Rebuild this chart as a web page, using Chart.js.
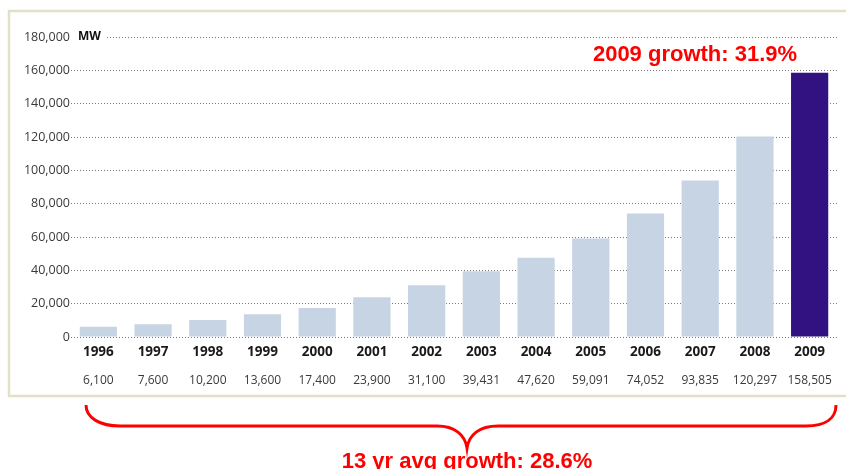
<!DOCTYPE html>
<html>
<head>
<meta charset="utf-8">
<script src="https://cdn.jsdelivr.net/npm/chart.js@4/dist/chart.umd.min.js"></script>
<style>
  html, body { margin: 0; padding: 0; background: #fff; }
  #wrap { width: 846px; height: 469px; }
</style>
</head>
<body>
<div id="wrap"><canvas id="myChart" width="846" height="469"></canvas></div>
<script>
// installed wind power capacity, MW
const years = ['1996', '1997', '1998', '1999', '2000', '2001', '2002', '2003', '2004', '2005', '2006', '2007', '2008', '2009'];
const capacity = [6100, 7600, 10200, 13600, 17400, 23900, 31100, 39431, 47620, 59091, 74052, 93835, 120297, 158505];
const yTicks = [0, 20000, 40000, 60000, 80000, 100000, 120000, 140000, 160000, 180000];
const lastYearNote = '2009 growth: 31.9%';
const avgNote = '13 yr avg growth: 28.6%';

const valueLabels = capacity.map(v => v.toLocaleString('en-US'));
const barColors = capacity.map((v, i) => i === capacity.length - 1 ? '#321281' : '#c6d4e3');

const frame = {
    id: 'frame',
    beforeDraw(chart) {
        const ctx = chart.ctx;
        ctx.save();
        ctx.fillStyle = '#fff';
        ctx.fillRect(0, 0, chart.width, chart.height);
        ctx.strokeStyle = '#e2e0c7';
        ctx.lineWidth = 2.5;
        ctx.strokeRect(9, 11, 850, 385);
        ctx.restore();
    },
    afterDraw(chart) {
        const ctx = chart.ctx;
        const area = chart.chartArea;
        const y = chart.scales.y;
        ctx.save();

        // unit label sits on the top grid line
        const topY = y.getPixelForValue(180000);
        ctx.fillStyle = '#fff';
        ctx.fillRect(area.left, topY - 7, 36, 14);
        ctx.fillStyle = '#111';
        ctx.font = 'bold 12px "Open Sans"';
        ctx.textBaseline = 'middle';
        ctx.fillText('MW', area.left + 7, topY);

        ctx.fillStyle = '#ff0000';
        ctx.font = 'bold 22px "Liberation Sans"';
        ctx.textAlign = 'center';
        ctx.textBaseline = 'alphabetic';
        ctx.fillText(lastYearNote, 695, 61);

        // brace under the whole range
        ctx.strokeStyle = '#ff0000';
        ctx.lineWidth = 3;
        ctx.beginPath();
        ctx.moveTo(86, 405);
        ctx.bezierCurveTo(86, 418, 100, 426, 120, 426);
        ctx.lineTo(437, 426);
        ctx.bezierCurveTo(455, 426, 465, 435, 467, 448);
        ctx.bezierCurveTo(469, 435, 479, 426, 498, 426);
        ctx.lineTo(806, 426);
        ctx.bezierCurveTo(826, 426, 836, 418, 836, 405);
        ctx.stroke();

        ctx.fillText(avgNote, 467, 468);
        ctx.restore();
    }
};

const ctx = document.getElementById('myChart').getContext('2d');
window.myChart = new Chart(ctx, {
    type: 'bar',
    data: {
        labels: years,
        datasets: [{
            label: 'MW',
            data: capacity,
            backgroundColor: barColors,
            borderWidth: 0,
            categoryPercentage: 1,
            barPercentage: 0.68
        }]
    },
    options: {
        responsive: false,
        animation: false,
        devicePixelRatio: 1,
        layout: {
            padding: { top: 37, right: 9, bottom: 76, left: 0 }
        },
        plugins: {
            legend: { display: false },
            tooltip: { enabled: false }
        },
        scales: {
            x: {
                weight: 0,
                grid: { display: false },
                border: { display: false },
                ticks: {
                    color: '#1a1a1a',
                    font: { family: 'Open Sans', size: 13.5, weight: 'bold' },
                    padding: -1,
                    maxRotation: 0
                },
                afterFit: s => { s.height = 28; }
            },
            x2: {
                type: 'category',
                labels: valueLabels,
                position: 'bottom',
                weight: 1,
                grid: { display: false },
                border: { display: false },
                ticks: {
                    color: '#3a3a3a',
                    font: { family: 'Open Sans', size: 12 },
                    padding: 0,
                    maxRotation: 0
                },
                afterFit: s => { s.height = 28; }
            },
            y: {
                min: 0,
                max: 180000,
                afterBuildTicks: s => { s.ticks = yTicks.map(v => ({ value: v })); },
                grid: {
                    color: '#7a7a7a',
                    lineWidth: 1,
                    drawTicks: false
                },
                border: { display: false, dash: [1, 2] },
                ticks: {
                    color: '#3a3a3a',
                    font: { family: 'Open Sans', size: 12.5 },
                    padding: 1,
                    callback: v => v.toLocaleString('en-US')
                },
                afterFit: s => { s.width = 71; }
            }
        }
    },
    plugins: [frame]
});
</script>
</body>
</html>
